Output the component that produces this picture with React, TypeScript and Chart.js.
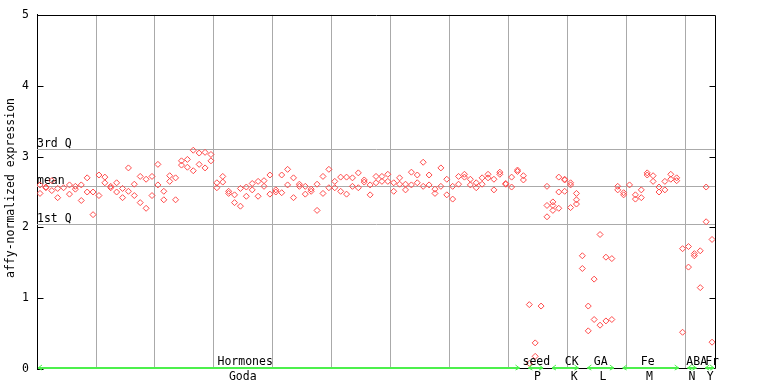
import { useEffect, useRef } from "react";
import { Chart, registerables } from "chart.js";

Chart.register(...registerables);

// ---- data (sample index = position in array) ----
const repA: (number | null)[] = [
  2.60, 2.57, 2.66, 2.55, 2.56, 2.60, 2.58, 2.60, 2.70, 2.50,
  2.74, 2.71, 2.58, 2.63, 2.55, 2.84, 2.61, 2.72, 2.68, 2.72,
  2.89, 2.51, 2.73, 2.70, 2.94, 2.96, 3.09, 3.05, 3.06, 3.03,
  2.63, 2.72, 2.51, 2.46, 2.55, 2.57, 2.62, 2.65, 2.66, 2.74,
  2.53, 2.74, 2.82, 2.70, 2.61, 2.58, 2.54, 2.61, 2.72, 2.82,
  2.65, 2.71, 2.71, 2.70, 2.77, 2.67, 2.60, 2.72, 2.72, 2.75,
  2.63, 2.70, 2.61, 2.78, 2.74, 2.92, 2.74, 2.54, 2.84, 2.68,
  2.58, 2.72, 2.75, 2.68, 2.63, 2.70, 2.75, 2.68, 2.78, 2.62,
  2.71, 2.81, 2.73, 0.91, 0.37, 0.89, 2.58, 2.36, 2.71, 2.68,
  2.63, 2.48, 1.60, 0.89, 1.27, 1.90, 1.58, 1.56, 2.58, 2.49,
  2.60, 2.46, 2.53, 2.77, 2.73, 2.57, 2.65, 2.75, 2.70, 1.70,
  1.73, 1.63, 1.67, 2.57, 1.83,
];
const repB: (number | null)[] = [
  2.48, 2.56, 2.52, 2.42, null, 2.47, 2.54, 2.38, 2.50, 2.18,
  2.45, 2.63, 2.56, 2.50, 2.42, 2.51, 2.45, 2.35, 2.27, 2.45,
  2.60, 2.39, 2.65, 2.39, 2.88, 2.85, 2.80, 2.89, 2.84, 2.94,
  2.56, 2.64, 2.48, 2.35, 2.30, 2.44, 2.53, 2.44, 2.58, 2.47,
  2.50, 2.49, 2.60, 2.42, 2.58, 2.47, 2.51, 2.24, 2.48, 2.56,
  2.56, 2.51, 2.47, 2.58, 2.56, 2.64, 2.46, 2.63, 2.65, 2.65,
  2.51, 2.61, 2.53, 2.60, 2.63, 2.58, 2.60, 2.48, 2.58, 2.46,
  2.40, 2.61, 2.71, 2.60, 2.56, 2.61, 2.70, 2.53, 2.75, 2.61,
  2.57, 2.79, 2.67, 0.08, 0.18, null, 2.31, 2.31, 2.50, 2.67,
  2.60, 2.39, 1.42, 0.54, 0.70, 0.62, 0.68, 0.70, 2.53, 2.46,
  null, 2.40, 2.42, 2.74, 2.65, 2.50, 2.53, 2.68, 2.66, 0.52,
  1.44, 1.60, 1.15, 2.08, 0.38,
];
const extraIdx = [86, 87, 88, 89, 90, 91];
const extraVal = [2.15, 2.24, 2.27, 2.51, 2.28, 2.33];

const qValues = [3.11, 2.59, 2.045];
const qLabels = ["3rd Q", "mean", "1st Q"];

const yTicks = [0, 1, 2, 3, 4, 5];
const yTitle = "affy-normalized expression";

const groupTop = ["Hormones", "seed", "CK", "GA", "Fe", "ABA", "Fr"];
const groupBottom = ["Goda", "P", "K", "L", "M", "N", "Y"];
const groupStart = [0, 82, 86, 92, 98, 109, 112];
const groupEnd = [81, 85, 91, 97, 108, 111, 114];

// ---- layout ----
const topLabelAt = [34.8, 84.2, 90.2, 95.1, 103.1, 111.4, 114.0];
const bottomLabelAt = [34.4, 84.4, 90.6, 95.5, 103.4, 110.6, 113.7];
const gridAt = [9.5, 19.5, 29.5, 39.5, 49.5, 59.5, 69.5, 79.5, 89.5, 99.5, 109.5];
const X_MIN = -0.509;
const X_MAX = 114.67;
const FONT = "'DejaVu Sans Mono', monospace";
const RED = "#ff4a4a";
const GRID = "#aaaaaa";
const GREEN = "#4cf04c";

const toPts = (arr: (number | null)[]) =>
  arr.map((v, i) => (v == null ? null : { x: i, y: v })).filter((p) => p !== null) as { x: number; y: number }[];

const decor = {
  id: "decor",
  beforeDatasetsDraw(chart: any) {
    const ctx = chart.ctx;
    const { left, right } = chart.chartArea;
    const yS = chart.scales.y;
    ctx.save();
    ctx.strokeStyle = GRID;
    ctx.lineWidth = 1;
    ctx.font = `11.5px ${FONT}`;
    ctx.fillStyle = "#000";
    ctx.textAlign = "left";
    ctx.textBaseline = "alphabetic";
    qValues.forEach((q, k) => {
      const y = Math.round(yS.getPixelForValue(q)) + 0.5;
      ctx.beginPath();
      ctx.moveTo(left, y);
      ctx.lineTo(right, y);
      ctx.stroke();
      ctx.fillText(qLabels[k], left, y - 2.5);
    });
    ctx.restore();
  },
  afterDatasetsDraw(chart: any) {
    const ctx = chart.ctx;
    const { left, right, top, bottom } = chart.chartArea;
    const yS = chart.scales.y;
    const xS = chart.scales.x;
    ctx.save();
    ctx.strokeStyle = "#000";
    ctx.lineWidth = 1;
    const L = Math.round(left) + 0.5;
    const R = Math.round(right) - 0.5;
    const T = Math.round(top) + 0.5;
    const B = Math.round(bottom) - 0.5;
    ctx.beginPath();
    ctx.moveTo(L, T);
    ctx.lineTo(R, T);
    ctx.moveTo(R, T);
    ctx.lineTo(R, B);
    ctx.moveTo(L, B);
    ctx.lineTo(R, B);
    yTicks.forEach((v) => {
      const y = Math.round(yS.getPixelForValue(v)) + 0.5;
      ctx.moveTo(L, y);
      ctx.lineTo(L + 6, y);
      if (v > 0 && v < 5) {
        ctx.moveTo(R, y);
        ctx.lineTo(R - 6, y);
      }
    });
    ctx.stroke();

    // green group arrows
    ctx.strokeStyle = GREEN;
    ctx.lineWidth = 2;
    const gy = B - 0.5;
    groupStart.forEach((s, k) => {
      const x1 = k === 0 ? left + 1 : xS.getPixelForValue(s) + 5;
      const x2 = xS.getPixelForValue(groupEnd[k]) + 2;
      ctx.beginPath();
      ctx.moveTo(x1, gy);
      ctx.lineTo(x2, gy);
      ctx.stroke();
      ctx.lineWidth = 1;
      ctx.beginPath();
      ctx.moveTo(x1 + 4, gy - 3);
      ctx.lineTo(x1, gy);
      ctx.lineTo(x1 + 4, gy + 2);
      ctx.moveTo(x2 - 4, gy - 3);
      ctx.lineTo(x2, gy);
      ctx.lineTo(x2 - 4, gy + 2);
      ctx.stroke();
      ctx.lineWidth = 2;
    });

    // group labels
    ctx.fillStyle = "#000";
    ctx.font = `11.5px ${FONT}`;
    ctx.textAlign = "center";
    ctx.textBaseline = "middle";
    groupTop.forEach((t, k) => {
      ctx.fillText(t, xS.getPixelForValue(topLabelAt[k]), 362);
    });
    groupBottom.forEach((t, k) => {
      ctx.fillText(t, xS.getPixelForValue(bottomLabelAt[k]), 377);
    });

    // y title
    ctx.save();
    ctx.translate(11, 188);
    ctx.rotate(-Math.PI / 2);
    ctx.fillText(yTitle, 0, 0);
    ctx.restore();
    ctx.restore();
  },
};

export default function App() {
  const ref = useRef<HTMLCanvasElement>(null);
  useEffect(() => {
    const canvas = ref.current!;
    const ds = (data: { x: number; y: number }[]) => ({
      data,
      pointStyle: "rectRot" as const,
      pointRadius: 3,
      pointBorderWidth: 1,
      pointBorderColor: RED,
      pointBackgroundColor: "rgba(255,255,255,0)",
      showLine: false,
    });
    const chart = new Chart(canvas, {
      type: "scatter",
      data: {
        datasets: [
          ds(toPts(repA)),
          ds(toPts(repB)),
          ds(extraIdx.map((x, k) => ({ x, y: extraVal[k] }))),
        ],
      },
      options: {
        responsive: false,
        animation: false,
        devicePixelRatio: 1,
        layout: { padding: { top: 13, right: 52, bottom: 14.5, left: 0 } },
        plugins: { legend: { display: false }, tooltip: { enabled: false } },
        scales: {
          x: {
            type: "linear",
            min: X_MIN,
            max: X_MAX,
            afterBuildTicks: (s: any) => {
              s.ticks = gridAt.map((v) => ({ value: v }));
            },
            ticks: { display: false },
            grid: { color: GRID, lineWidth: 1, drawTicks: false },
            border: { display: false },
            afterFit: (s: any) => {
              s.height = 0;
            },
          },
          y: {
            min: 0,
            max: 5,
            afterBuildTicks: (s: any) => {
              s.ticks = yTicks.map((v) => ({ value: v }));
            },
            ticks: { color: "#000", font: { family: FONT, size: 11.5 }, padding: 8 },
            grid: { display: false, drawTicks: false },
            border: { display: true, color: "#000", width: 1 },
            afterFit: (s: any) => {
              s.width = 37;
            },
          },
        },
      },
      plugins: [decor],
    });
    return () => chart.destroy();
  }, []);
  return (
    <div style={{ position: "absolute", left: 0, top: 0 }}>
      <canvas ref={ref} width={768} height={384} />
    </div>
  );
}
